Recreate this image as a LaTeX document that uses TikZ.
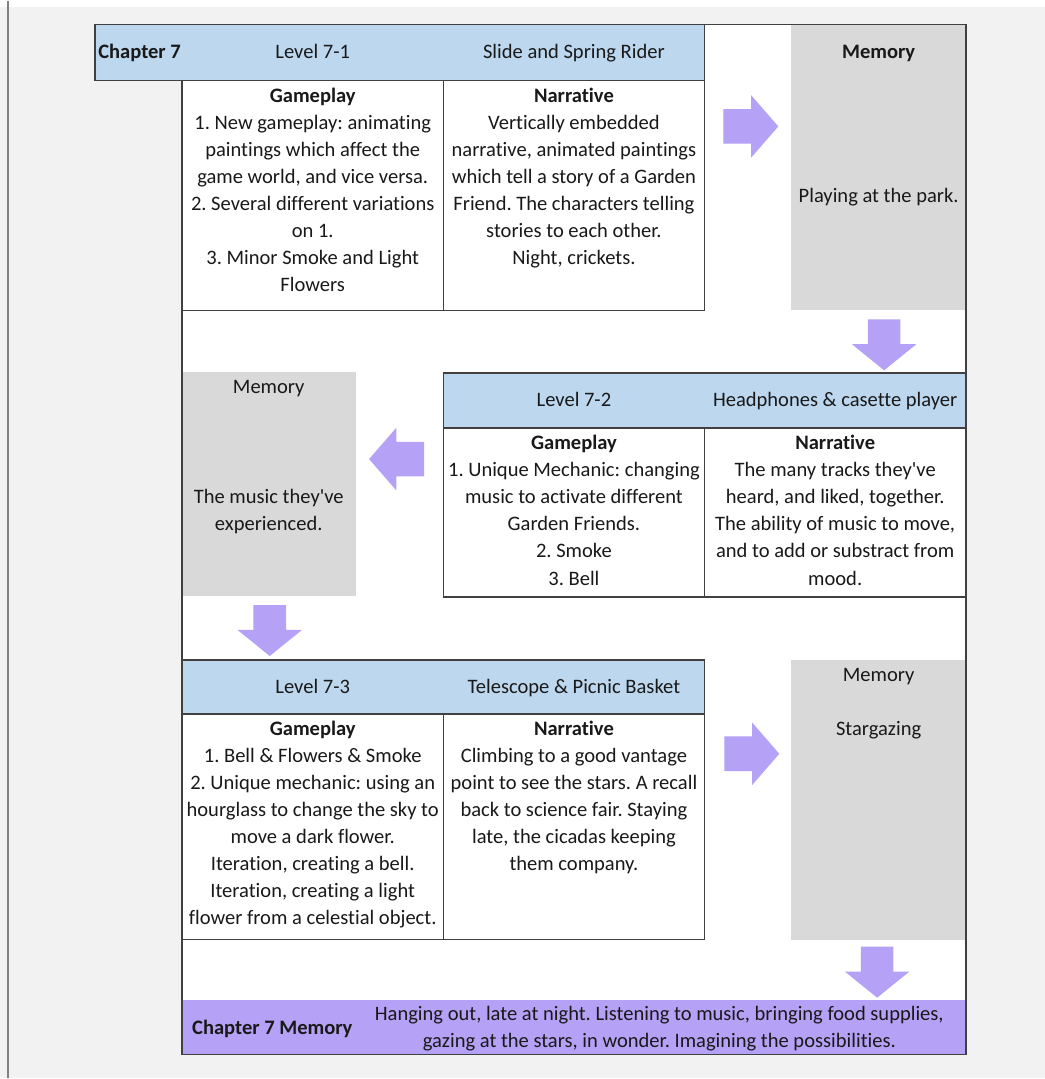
\documentclass[tikz,border=0pt]{standalone}
\usepackage{fontspec}
\setmainfont[Ligatures=NoCommon]{Carlito}
\usepackage{tikz}
\usetikzlibrary{shapes.arrows,positioning}
\frenchspacing

\definecolor{hdrblue}{RGB}{189,215,238}
\definecolor{memgray}{RGB}{217,217,217}
\definecolor{lilac}{RGB}{181,161,245}
\definecolor{rulegray}{RGB}{64,64,64}
\definecolor{pagegray}{RGB}{242,242,242}

\begin{document}
\begin{tikzpicture}[
    x=0.02cm, y=-0.02cm,
    every node/.style={font=\fontsize{11.7}{15.4}\selectfont, text=black!90},
    frame/.style={draw=rulegray, line width=0.8pt},
    hdr/.style={frame, fill=hdrblue},
    memo/.style={fill=memgray},
    txt/.style={anchor=north, align=center, inner sep=0pt},
    lbl/.style={anchor=base, inner sep=0pt},
    harr/.style={single arrow, fill=lilac, inner xsep=0pt, inner ysep=0.34cm,
        minimum height=1.1cm, single arrow head extend=0.28cm, single arrow tip angle=98},
    varr/.style={single arrow, fill=lilac, inner xsep=0.32cm, inner ysep=0pt,
        minimum height=1.02cm, single arrow head extend=0.32cm, single arrow tip angle=102,
        shape border rotate=270}
]
% page
\fill[pagegray] (0,0) rectangle (1046,1079);
\fill[white] (0,0) rectangle (1046,6);
\draw[gray, line width=0.6pt] (8,0) -- (8,1079);
\fill[white] (95,24) -- (967,24) -- (967,1055) -- (182,1055) -- (182,80) -- (95,80) -- cycle;

% memory boxes and chapter bar
\fill[memo] (792,24) rectangle (967,310);
\fill[memo] (182,372) rectangle (356,596);
\fill[memo] (792,660) rectangle (967,940);
\fill[lilac] (182,1000) rectangle (967,1055);

% level 7-1
\draw[hdr] (95,24) rectangle (705,80);
\draw[frame] (182,80) rectangle (444,310);
\draw[frame] (444,80) rectangle (705,310);
\node[lbl, anchor=base west] (ch7) at (98,58.5) {\textbf{Chapter 7}};
\node[lbl] (lv1) at (313,58.5) {Level 7-1};
\node[lbl] (ti1) at (574.5,58.5) {Slide and Spring Rider};
\node[txt] (gp1) at (313,87) {\textbf{Gameplay}\\1. New gameplay: animating\\paintings which affect the\\game world, and vice versa.\\2. Several different variations\\on 1.\\3. Minor Smoke and Light\\Flowers};
\node[txt] (nr1) at (574.5,87) {\textbf{Narrative}\\Vertically embedded\\narrative, animated paintings\\which tell a story of a Garden\\Friend. The characters telling\\stories to each other.\\Night, crickets.};
\node[lbl] (mh1) at (879.5,58.5) {\textbf{Memory}};
\node[lbl] (mt1) at (879.5,202.5) {Playing at the park.};

% level 7-2
\draw[hdr] (444,373) rectangle (967,428);
\draw[frame] (444,428) rectangle (705,597);
\draw[frame] (705,428) rectangle (967,597);
\node[lbl] (lv2) at (574.5,406.5) {Level 7-2};
\node[lbl] (ti2) at (836,406.5) {Headphones \& casette player};
\node[txt] (gp2) at (574.5,435) {\textbf{Gameplay}\\1. Unique Mechanic: changing\\music to activate different\\Garden Friends.\\2. Smoke\\3. Bell};
\node[txt] (nr2) at (836,435) {\textbf{Narrative}\\The many tracks they\textquotesingle ve\\heard, and liked, together.\\The ability of music to move,\\and to add or substract from\\mood.};
\node[lbl] (mh2) at (269,393.5) {Memory};
\node[txt] (mt2) at (269,489) {The music they\textquotesingle ve\\experienced.};

% level 7-3
\draw[hdr] (182,660) rectangle (705,714);
\draw[frame] (182,714) rectangle (444,940);
\draw[frame] (444,714) rectangle (705,940);
\node[lbl] (lv3) at (313,693.5) {Level 7-3};
\node[lbl] (ti3) at (574.5,693.5) {Telescope \& Picnic Basket};
\node[txt] (gp3) at (313,721) {\textbf{Gameplay}\\1. Bell \& Flowers \& Smoke\\2. Unique mechanic: using an\\hourglass to change the sky to\\move a dark flower.\\Iteration, creating a bell.\\Iteration, creating a light\\flower from a celestial object.};
\node[txt] (nr3) at (574.5,721) {\textbf{Narrative}\\Climbing to a good vantage\\point to see the stars. A recall\\back to science fair. Staying\\late, the cicadas keeping\\them company.};
\node[lbl] (mh3) at (879.5,681.5) {Memory};
\node[lbl] (mt3) at (879.5,735.5) {Stargazing};

% chapter memory
\node[lbl, anchor=base west] (cm) at (192,1034.5) {\textbf{Chapter 7 Memory}};
\node[txt] (cmt) at (660,1006) {Hanging out, late at night. Listening to music, bringing food supplies,\\gazing at the stars, in wonder. Imagining the possibilities.};

% arrows
\node[harr] (ar1) at (744,126) {};
\node[varr] (ad1) at (885,338) {};
\node[harr, shape border rotate=180] (al2) at (404.5,459) {};
\node[varr] (ad2) at (270,624) {};
\node[harr] (ar3) at (745,754) {};
\node[varr] (ad3) at (878,966) {};

% outer frame on top
\draw[frame] (95,24) -- (967,24) -- (967,1055) -- (182,1055) -- (182,80) -- (95,80) -- cycle;
\end{tikzpicture}
\end{document}
